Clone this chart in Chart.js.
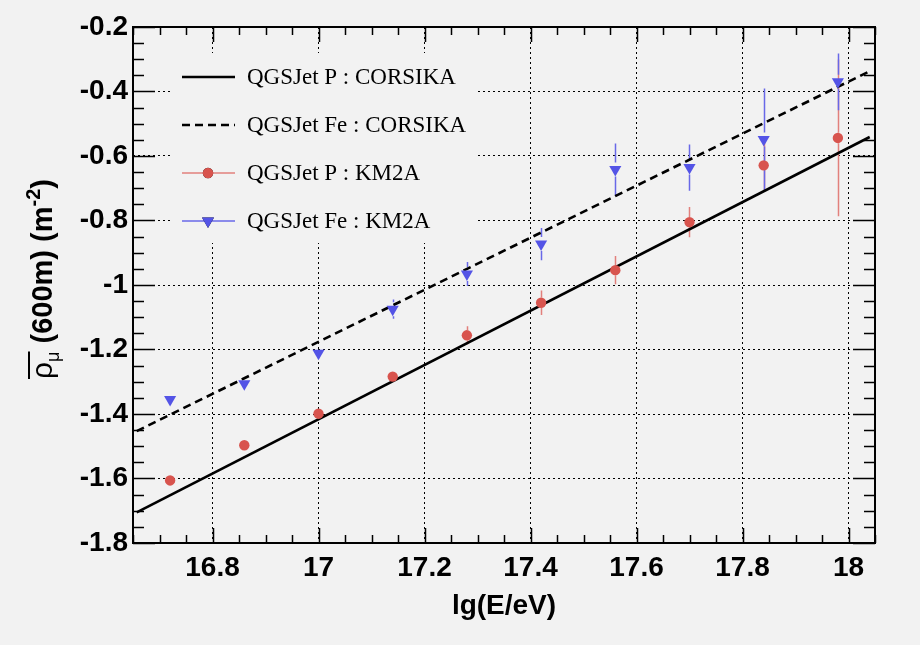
<!DOCTYPE html>
<html lang="en">
<head>
    <meta charset="UTF-8">
    <title>Muon density vs energy</title>
    <script src="https://cdn.jsdelivr.net/npm/chart.js@4.4.0/dist/chart.umd.min.js"></script>
    <style>
        html, body { margin: 0; padding: 0; background: #f2f2f2; }
        canvas { display: block; }
    </style>
</head>
<body>
<canvas id="myChart" width="920" height="645"></canvas>

<script>
    // lg(E/eV) bins of the KM2A points
    var energies = [16.72, 16.86, 17.0, 17.14, 17.28, 17.42, 17.56, 17.70, 17.84, 17.98];
    var protonKM2A = [-1.606, -1.497, -1.399, -1.284, -1.156, -1.055, -0.954, -0.805, -0.629, -0.544];
    var protonErr = [0.01, 0.01, 0.01, 0.012, 0.028, 0.038, 0.044, 0.047, 0.08, 0.243];
    var ironKM2A = [-1.355, -1.306, -1.212, -1.075, -0.966, -0.873, -0.642, -0.636, -0.549, -0.370];
    var ironErr = [0.01, 0.012, 0.015, 0.03, 0.037, 0.05, 0.081, 0.072, 0.158, 0.088];

    // CORSIKA reference lines
    var lineEnergies = [16.657, 18.04];
    var protonCorsika = [-1.705, -0.541];
    var ironCorsika = [-1.453, -0.337];

    var xTicks = [16.8, 17, 17.2, 17.4, 17.6, 17.8, 18];
    var yTicks = [-1.8, -1.6, -1.4, -1.2, -1, -0.8, -0.6, -0.4, -0.2];

    var bg = '#f2f2f2';
    var redMarker = 'rgb(216,84,78)';
    var redErr = 'rgb(226,128,124)';
    var blueMarker = 'rgb(84,84,230)';
    var blueErr = 'rgb(104,104,232)';
    var sansFont = '"Liberation Sans", Arial, Helvetica, sans-serif';
    var serifFont = '"Liberation Serif", "Times New Roman", serif';

    function pts(xs, ys) {
      return xs.map(function(x, i) { return { x: x, y: ys[i] }; });
    }

    // error bars drawn under the markers, with a gap where the marker sits
    var errorBars = {
      id: 'errorBars',
      beforeDatasetsDraw: function(chart) {
        var ctx = chart.ctx, xs = chart.scales.x, ys = chart.scales.y;
        chart.data.datasets.forEach(function(ds) {
          if (!ds.errors) return;
          ctx.save();
          ctx.strokeStyle = ds.errorColor;
          ctx.lineWidth = 1.5;
          ds.data.forEach(function(p, j) {
            var px = Math.round(xs.getPixelForValue(p.x)) + 0.5;
            var py = ys.getPixelForValue(p.y);
            var top = ys.getPixelForValue(p.y + ds.errors[j]);
            var bot = ys.getPixelForValue(p.y - ds.errors[j]);
            var gap = ds.pointRadius;
            ctx.beginPath();
            if (py - gap > top) { ctx.moveTo(px, top); ctx.lineTo(px, py - gap); }
            if (py + gap < bot) { ctx.moveTo(px, py + gap); ctx.lineTo(px, bot); }
            ctx.stroke();
          });
          ctx.restore();
        });
      }
    };

    // ROOT style frame with ticks on all four sides
    var frameTicks = {
      id: 'frameTicks',
      afterDatasetsDraw: function(chart) {
        var ctx = chart.ctx, a = chart.chartArea, xs = chart.scales.x, ys = chart.scales.y;
        ctx.save();
        ctx.strokeStyle = '#000';
        ctx.lineWidth = 1.5;
        ctx.beginPath();
        var v, p, len;
        for (v = Math.ceil(xs.min / 0.05) * 0.05; v <= xs.max + 1e-9; v += 0.05) {
          p = Math.round(xs.getPixelForValue(v)) + 0.5;
          len = Math.abs(v / 0.2 - Math.round(v / 0.2)) < 1e-6 ? 15 : 8;
          ctx.moveTo(p, a.bottom); ctx.lineTo(p, a.bottom - len);
          ctx.moveTo(p, a.top); ctx.lineTo(p, a.top + len);
        }
        for (v = Math.ceil(ys.min / 0.05) * 0.05; v <= ys.max + 1e-9; v += 0.05) {
          p = Math.round(ys.getPixelForValue(v)) + 0.5;
          len = Math.abs(v / 0.2 - Math.round(v / 0.2)) < 1e-6 ? 22 : 11;
          ctx.moveTo(a.left, p); ctx.lineTo(a.left + len, p);
          ctx.moveTo(a.right, p); ctx.lineTo(a.right - len, p);
        }
        ctx.stroke();
        ctx.lineWidth = 2;
        ctx.strokeRect(a.left, a.top, a.right - a.left, a.bottom - a.top);
        ctx.restore();
      }
    };

    // legend inside the frame, drawn from the datasets
    var innerLegend = {
      id: 'innerLegend',
      afterDatasetsDraw: function(chart) {
        var ctx = chart.ctx;
        ctx.save();
        ctx.fillStyle = bg;
        ctx.fillRect(170, 53, 305, 190);
        var rowY = [77, 125, 173, 221];
        chart.data.datasets.forEach(function(ds, i) {
          var y = rowY[i];
          ctx.save();
          if (ds.showLine) {
            ctx.strokeStyle = ds.borderColor;
            ctx.lineWidth = ds.borderWidth;
            ctx.setLineDash(ds.borderDash || []);
          } else {
            ctx.strokeStyle = ds.errorColor;
            ctx.lineWidth = 1.5;
          }
          ctx.beginPath();
          ctx.moveTo(182, y); ctx.lineTo(235, y);
          ctx.stroke();
          ctx.restore();
          if (!ds.showLine) {
            Chart.helpers.drawPoint(ctx, {
              pointStyle: ds.pointStyle, rotation: ds.rotation || 0,
              radius: ds.pointRadius, borderWidth: 0
            }, 208, y);
            ctx.fillStyle = ds.backgroundColor;
            ctx.fill();
          }
          ctx.fillStyle = '#000';
          ctx.font = '23px ' + serifFont;
          ctx.textBaseline = 'middle';
          ctx.fillText(ds.label, 247, y + 1);
        });
        ctx.restore();
      }
    };

    // y title with overline, subscript and superscript
    var yTitle = {
      id: 'yTitle',
      afterDraw: function(chart) {
        var ctx = chart.ctx, a = chart.chartArea;
        var parts = [
          { t: '\u03c1', f: '30px ' + sansFont, dy: 0, bar: true },
          { t: '\u03bc', f: '18px ' + sansFont, dy: 7, bar: true },
          { t: ' (600m) (m', f: 'bold 29px ' + sansFont, dy: 0 },
          { t: '-2', f: 'bold 20px ' + sansFont, dy: -12 },
          { t: ')', f: 'bold 29px ' + sansFont, dy: 0 }
        ];
        ctx.save();
        var total = 0;
        parts.forEach(function(p) { ctx.font = p.f; p.w = ctx.measureText(p.t).width; total += p.w; });
        ctx.translate(52, (a.top + a.bottom) / 2 - 6);
        ctx.rotate(-Math.PI / 2);
        ctx.fillStyle = '#000';
        ctx.textBaseline = 'alphabetic';
        var x = -total / 2, barStart = null, barEnd = null;
        parts.forEach(function(p) {
          ctx.font = p.f;
          ctx.fillText(p.t, x, p.dy);
          if (p.bar) { if (barStart === null) barStart = x; barEnd = x + p.w; }
          x += p.w;
        });
        ctx.strokeStyle = '#000';
        ctx.lineWidth = 2;
        ctx.beginPath();
        ctx.moveTo(barStart, -23); ctx.lineTo(barEnd, -23);
        ctx.stroke();
        ctx.restore();
      }
    };

    var paintBg = {
      id: 'paintBg',
      beforeDraw: function(chart) {
        var ctx = chart.ctx;
        ctx.save();
        ctx.fillStyle = bg;
        ctx.fillRect(0, 0, chart.width, chart.height);
        ctx.restore();
      }
    };

    var ctx = document.getElementById('myChart').getContext('2d');

    var myChart = new Chart(ctx, {
      type: 'scatter',
      data: {
        datasets: [{
          label: 'QGSJet P : CORSIKA',
          data: pts(lineEnergies, protonCorsika),
          showLine: true,
          borderColor: '#000',
          borderWidth: 2.6,
          pointRadius: 0,
          order: 3
        }, {
          label: 'QGSJet Fe : CORSIKA',
          data: pts(lineEnergies, ironCorsika),
          showLine: true,
          borderColor: '#000',
          borderWidth: 2.6,
          borderDash: [8, 5],
          pointRadius: 0,
          order: 2
        }, {
          label: 'QGSJet P : KM2A',
          data: pts(energies, protonKM2A),
          errors: protonErr,
          errorColor: redErr,
          showLine: false,
          pointStyle: 'circle',
          pointRadius: 5.2,
          borderWidth: 0,
          backgroundColor: redMarker,
          order: 1
        }, {
          label: 'QGSJet Fe : KM2A',
          data: pts(energies, ironKM2A),
          errors: ironErr,
          errorColor: blueErr,
          showLine: false,
          pointStyle: 'triangle',
          rotation: 180,
          pointRadius: 7,
          borderWidth: 0,
          backgroundColor: blueMarker,
          order: 0
        }]
      },
      options: {
        responsive: false,
        animation: false,
        devicePixelRatio: 1,
        layout: { padding: { top: 27, right: 45, left: 0, bottom: 0 } },
        plugins: {
          legend: { display: false },
          tooltip: { enabled: false }
        },
        scales: {
          x: {
            type: 'linear',
            min: 16.65,
            max: 18.05,
            afterBuildTicks: function(s) { s.ticks = xTicks.map(function(v) { return { value: v }; }); },
            afterFit: function(s) { s.height = 102; },
            grid: { color: '#000', lineWidth: 1, drawTicks: false },
            border: { display: false, dash: [2, 3] },
            ticks: {
              color: '#000',
              padding: 8,
              maxRotation: 0,
              font: { family: sansFont, size: 28, weight: 'bold' },
              callback: function(v) { return String(+v.toFixed(1)); }
            },
            title: {
              display: true,
              text: 'lg(E/eV)',
              color: '#000',
              font: { family: sansFont, size: 28, weight: 'bold' },
              padding: { top: 0, bottom: 22 }
            }
          },
          y: {
            type: 'linear',
            min: -1.8,
            max: -0.2,
            afterBuildTicks: function(s) { s.ticks = yTicks.map(function(v) { return { value: v }; }); },
            afterFit: function(s) { s.width = 133; },
            grid: { color: '#000', lineWidth: 1, drawTicks: false },
            border: { display: false, dash: [2, 3] },
            ticks: {
              color: '#000',
              padding: 5,
              font: { family: sansFont, size: 28, weight: 'bold' },
              callback: function(v) { return String(+v.toFixed(1)); }
            }
          }
        }
      },
      plugins: [paintBg, errorBars, innerLegend, frameTicks, yTitle]
    });
</script>
</body>
</html>
